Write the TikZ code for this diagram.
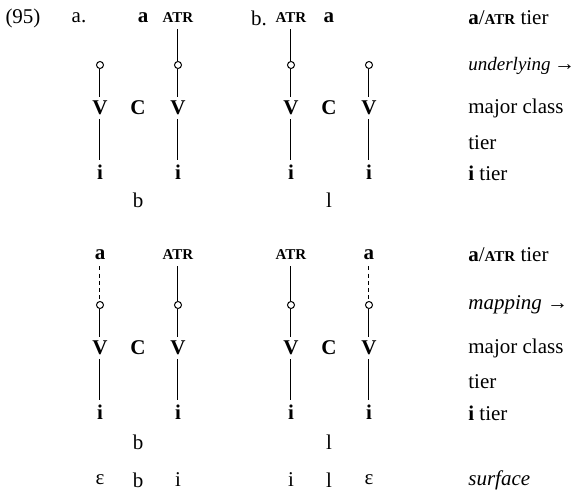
\documentclass[tikz,border=0pt]{standalone}
\usepackage{fontspec}
\setmainfont{Liberation Serif}
\usetikzlibrary{positioning}

\newcommand{\atr}{{\fontsize{7.5}{9}\selectfont\bfseries ATR}}

\begin{document}
\begin{tikzpicture}[
  x=0.5pt, y=-0.5pt,
  font=\fontsize{10.5}{12.6}\selectfont,
  seg/.style={font=\fontsize{10.5}{12.6}\selectfont\bfseries, inner sep=2pt},
  feat/.style={inner sep=3pt},
  txt/.style={inner sep=1pt},
  tierlbl/.style={anchor=west, inner sep=0pt},
  anchorpt/.style={circle, draw, fill=white, line width=0.5pt,
                   inner sep=0pt, minimum size=3.5pt},
  assoc/.style={line width=0.5pt},
  dotassoc/.style={line width=0.5pt, dash pattern=on 2pt off 1.6pt}
]
\useasboundingbox (0,0) rectangle (575,503);

% Example number and sub-labels
\node[txt] (num) at (23,18)  {(95)};
\node[txt] (la)  at (79,18)  {a.};
\node[txt] (lb)  at (259,18) {b.};

% Underlying, (a)
\node[seg, feat] (ua-a)   at (143,18) {a};
\node[seg, feat] (ua-atr) at (178,18) {\atr};
\node[anchorpt]  (ua-o1)  at (100,65) {};
\node[anchorpt]  (ua-o2)  at (178,65) {};
\node[seg] (ua-v1) at (100,108) {V};
\node[seg] (ua-c)  at (138,108) {C};
\node[seg] (ua-v2) at (178,108) {V};
\node[seg] (ua-i1) at (100,172) {i};
\node[seg] (ua-i2) at (178,172) {i};
\node[txt] (ua-b)  at (138,200) {b};

% Underlying, (b)
\node[seg, feat] (ub-atr) at (291,18) {\atr};
\node[seg, feat] (ub-a)   at (329,18) {a};
\node[anchorpt]  (ub-o1)  at (291,65) {};
\node[anchorpt]  (ub-o2)  at (369,65) {};
\node[seg] (ub-v1) at (291,108) {V};
\node[seg] (ub-c)  at (329,108) {C};
\node[seg] (ub-v2) at (369,108) {V};
\node[seg] (ub-i1) at (291,172) {i};
\node[seg] (ub-i2) at (369,172) {i};
\node[txt] (ub-l)  at (329,200) {l};

% Mapping, (a)
\node[seg, feat] (ma-a)   at (100,255) {a};
\node[seg, feat] (ma-atr) at (178,255) {\atr};
\node[anchorpt]  (ma-o1)  at (100,305) {};
\node[anchorpt]  (ma-o2)  at (178,305) {};
\node[seg] (ma-v1) at (100,348) {V};
\node[seg] (ma-c)  at (138,348) {C};
\node[seg] (ma-v2) at (178,348) {V};
\node[seg] (ma-i1) at (100,412) {i};
\node[seg] (ma-i2) at (178,412) {i};
\node[txt] (ma-b)  at (138,442) {b};

% Mapping, (b)
\node[seg, feat] (mb-atr) at (291,255) {\atr};
\node[seg, feat] (mb-a)   at (369,255) {a};
\node[anchorpt]  (mb-o1)  at (291,305) {};
\node[anchorpt]  (mb-o2)  at (369,305) {};
\node[seg] (mb-v1) at (291,348) {V};
\node[seg] (mb-c)  at (329,348) {C};
\node[seg] (mb-v2) at (369,348) {V};
\node[seg] (mb-i1) at (291,412) {i};
\node[seg] (mb-i2) at (369,412) {i};
\node[txt] (mb-l)  at (329,442) {l};

% Surface forms
\node[txt] (sa1) at (100,480) {ε};
\node[txt] (sa2) at (138,480) {b};
\node[txt] (sa3) at (178,480) {i};
\node[txt] (sb1) at (291,480) {i};
\node[txt] (sb2) at (329,480) {l};
\node[txt] (sb3) at (369,480) {ε};

% Tier labels
\node[tierlbl] (t1) at (468,18)  {\textbf{a}/\atr{} tier};
\node[tierlbl] (t2) at (468,66)  {{\fontsize{9.5}{11}\selectfont\textit{underlying}}\,→};
\node[tierlbl] (t3) at (468,108) {major class};
\node[tierlbl] (t4) at (468,143) {tier};
\node[tierlbl] (t5) at (468,173) {\textbf{i} tier};
\node[tierlbl] (t6) at (468,255) {\textbf{a}/\atr{} tier};
\node[tierlbl] (t7) at (468,305) {\textit{mapping} →};
\node[tierlbl] (t8) at (468,348) {major class};
\node[tierlbl] (t9) at (468,382) {tier};
\node[tierlbl] (t10) at (468,413) {\textbf{i} tier};
\node[tierlbl] (t11) at (468,480) {\textit{surface}};

% Association lines
\foreach \s/\t in {ua-o1/ua-v1, ua-atr/ua-o2, ua-o2/ua-v2, ua-v1/ua-i1, ua-v2/ua-i2,
                   ub-atr/ub-o1, ub-o1/ub-v1, ub-o2/ub-v2, ub-v1/ub-i1, ub-v2/ub-i2,
                   ma-o1/ma-v1, ma-atr/ma-o2, ma-o2/ma-v2, ma-v1/ma-i1, ma-v2/ma-i2,
                   mb-atr/mb-o1, mb-o1/mb-v1, mb-o2/mb-v2, mb-v1/mb-i1, mb-v2/mb-i2}
  \draw[assoc] (\s) -- (\t);

% Dotted links of a
\draw[dotassoc] (ma-a) -- (ma-o1);
\draw[dotassoc] (mb-a) -- (mb-o2);

\end{tikzpicture}
\end{document}
